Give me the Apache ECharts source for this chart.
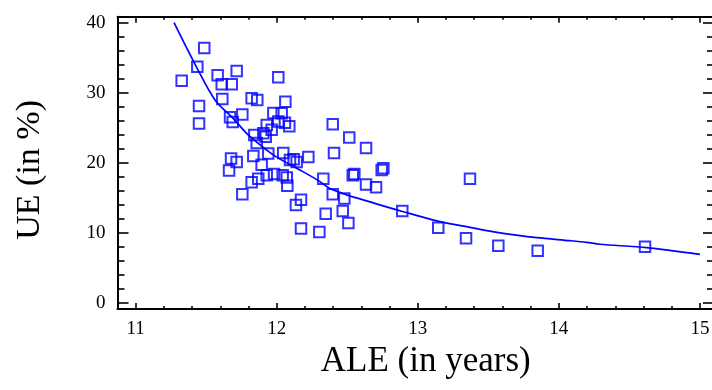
<!DOCTYPE html>
<html><head><meta charset="utf-8">
<script src="https://cdn.jsdelivr.net/npm/echarts@6/dist/echarts.min.js"></script>
<style>html,body{margin:0;padding:0;background:#fff}#c{width:712px;height:390px}</style>
</head><body><div id="c"></div>
<script>
// ---- data ----
var xMajorTicks = [11, 12, 13, 14, 15];
var xMinorTicks = [11.2,11.4,11.6,11.8,12.2,12.4,12.6,12.8,13.2,13.4,13.6,13.8,14.2,14.4,14.6,14.8];
var yMajorTicks = [0, 10, 20, 30, 40];
var yMinorTicks = [2,4,6,8,12,14,16,18,22,24,26,28,32,34,36,38];

var pointsALE = [
11.486,11.437,11.326,11.581,11.716,11.610,11.681,12.011,11.614,11.822,11.862,12.061,11.449,11.449,
11.669,11.688,11.756,11.976,12.035,11.929,12.011,12.058,12.089,11.964,11.905,11.841,11.922,11.858,
11.676,11.716,11.662,11.834,11.893,11.940,12.046,12.094,12.141,12.224,12.120,11.822,11.869,11.929,
11.981,12.042,12.071,12.075,11.756,12.172,12.136,12.330,12.397,12.479,12.347,12.468,12.172,12.302,
12.508,12.397,12.514,12.633,12.406,12.539,12.550,12.744,12.756,12.633,12.704,13.370,12.890,13.145,
13.342,13.571,13.850,14.611
];
var pointsUE = [
36.4,33.7,31.7,32.5,33.1,31.2,31.2,32.2,29.1,29.2,28.96,28.7,28.1,25.6,
26.5,25.8,26.9,27.1,27.05,25.4,25.9,25.7,25.2,24.7,24.2,23.96,23.7,22.8,
20.6,20.1,18.9,20.96,19.7,21.3,21.4,20.4,20.1,20.8,20.5,17.2,17.7,18.2,
18.4,18.2,17.9,16.7,15.5,14.7,13.96,17.7,15.5,14.9,12.7,13.1,10.6,10.1,
11.4,25.5,23.6,22.1,21.4,18.2,18.4,18.96,19.2,16.9,16.5,17.7,13.1,10.7,
9.2,8.14,7.43,8.0
];

var curveALE = [11.272,11.430,11.562,11.692,11.798,11.929,12.000,12.165,12.307,12.377,12.496,12.661,12.897,13.134,13.370,13.606,13.843,14.079,14.197,14.292,14.623,15.000];
var curveUE  = [40.0,33.7,28.96,26.3,23.96,21.8,20.8,18.96,17.3,16.3,15.4,14.4,13.0,11.7,10.77,9.9,9.29,8.86,8.62,8.35,7.86,6.9];

var xTitle = 'ALE (in years)';
var yTitle = 'UE (in %)';

// ---- build ----
var BLUE = '#0000ff';
var FONT = 'Liberation Serif';
var xMin = 10.871, xMax = 15.1, yMin = -0.9, yMax = 40.86;

function zip(a, b){ var r=[]; for (var i=0;i<a.length;i++) r.push([a[i], b[i]]); return r; }

function xAx(pos, ticks, len, showLine, showLabel, name){
  var o = {
    type:'value', position:pos, min:xMin, max:xMax,
    splitLine:{show:false},
    axisLine:{show:showLine, onZero:false, lineStyle:{color:'#000', width:2}},
    axisTick:{show:true, inside:true, length:len, customValues:ticks, lineStyle:{color:'#000', width:1.6}},
    axisLabel:{show:showLabel, customValues:ticks, margin:11, color:'#000', fontFamily:FONT, fontSize:19}
  };
  if (name) {
    o.name = name; o.nameLocation='middle'; o.nameGap = 33;
    o.nameTextStyle = {fontFamily:FONT, fontSize:35, color:'#000', padding:[0,0,0,20]};
  }
  return o;
}
function yAx(pos, ticks, len, showLine, showLabel, name){
  var o = {
    type:'value', position:pos, min:yMin, max:yMax,
    splitLine:{show:false},
    axisLine:{show:showLine, onZero:false, lineStyle:{color:'#000', width:2}},
    axisTick:{show:true, inside:true, length:len, customValues:ticks, lineStyle:{color:'#000', width:1.6}},
    axisLabel:{show:showLabel, customValues:ticks, margin:12, color:'#000', fontFamily:FONT, fontSize:19}
  };
  if (name) {
    o.name = name; o.nameLocation='middle'; o.nameGap = 70; o.nameRotate = 90;
    o.nameTextStyle = {fontFamily:FONT, fontSize:34, color:'#000', padding:[0,14,0,0]};
  }
  return o;
}

var chart = echarts.init(document.getElementById('c'), null, {renderer:'canvas'});
chart.setOption({
  animation:false,
  backgroundColor:'#fff',
  grid:{left:117.5, top:16.7, right:-2, bottom:81, containLabel:false, outerBoundsMode:'none'},
  xAxis:[
    xAx('bottom', xMajorTicks, 6, true, true, xTitle),
    xAx('bottom', xMinorTicks, 3, false, false),
    xAx('top', xMajorTicks, 6, true, false),
    xAx('top', xMinorTicks, 3, false, false)
  ],
  yAxis:[
    yAx('left', yMajorTicks, 11, true, true, yTitle),
    yAx('left', yMinorTicks, 7, false, false),
    yAx('right', yMajorTicks, 11, true, false),
    yAx('right', yMinorTicks, 7, false, false)
  ],
  series:[
    {type:'line', xAxisIndex:0, yAxisIndex:0, data:zip(curveALE, curveUE), smooth:0.3,
     showSymbol:false, symbol:'none', lineStyle:{color:BLUE, width:1.7}, z:2},
    {type:'scatter', xAxisIndex:0, yAxisIndex:0, data:zip(pointsALE, pointsUE),
     symbol:'rect', symbolSize:10.5,
     itemStyle:{color:'rgba(0,0,0,0)', borderColor:BLUE, borderWidth:2}, z:3}
  ]
});
</script></body></html>
